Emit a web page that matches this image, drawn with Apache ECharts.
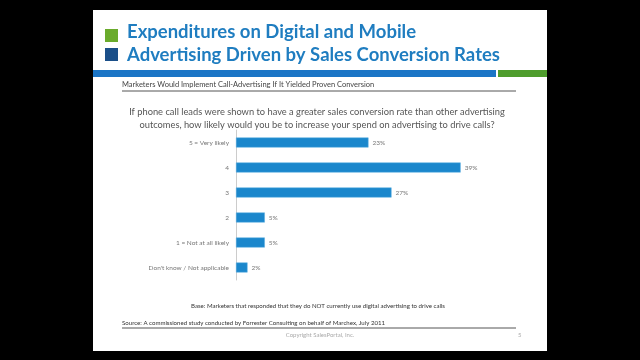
<!DOCTYPE html>
<html>
<head>
<meta charset="utf-8">
<script src="https://cdn.jsdelivr.net/npm/echarts@6/dist/echarts.min.js"></script>
<style>
    html, body { margin: 0; padding: 0; background: #000; }
    #chart { width: 640px; height: 360px; }
</style>
</head>
<body>
<div id="chart"></div>
<script>
// 调查结果 - 数据
const categories = ['5 = Very likely', '4', '3', '2', '1 = Not at all likely', "Don't know / Not applicable"];
const shares = [23, 39, 27, 5, 5, 2];

const titleLines = ['Expenditures on Digital and Mobile', 'Advertising Driven by Sales Conversion Rates'];
const subtitle = 'Marketers Would Implement Call-Advertising If It Yielded Proven Conversion';
const questionLines = [
    'If phone call leads were shown to have a greater sales conversion rate than other advertising',
    'outcomes, how likely would you be to increase your spend on advertising to drive calls?'
];
const baseNote = 'Base: Marketers that responded that they do NOT currently use digital advertising to drive calls';
const sourceNote = 'Source: A commissioned study conducted by Forrester Consulting on behalf of Marchex, July 2011';
const copyright = 'Copyright SalesPortal, Inc.';
const pageNo = '5';

const font = 'Lato';

/**
 * 文本元素
 */
function textItem(text, x, y, size, color, extra) {
    return Object.assign({
        type: 'text',
        x: x,
        y: y,
        style: Object.assign({
            text: text,
            fontFamily: font,
            fontSize: size,
            fill: color,
            verticalAlign: 'middle'
        }, extra || {})
    });
}

const chart = echarts.init(document.getElementById('chart'));

const option = {
    backgroundColor: '#000',
    animation: false,
    graphic: [
        // 幻灯片背景
        { type: 'rect', z: -10, shape: { x: 93, y: 10, width: 454, height: 341 }, style: { fill: '#fff' } },
        { type: 'rect', shape: { x: 105, y: 29, width: 13, height: 13 }, style: { fill: '#6aab2c' } },
        { type: 'rect', shape: { x: 105, y: 48, width: 13, height: 13 }, style: { fill: '#1b4f89' } },
        textItem(titleLines[0], 127, 32, 18.5, '#1f7dc0', { fontWeight: 'bold' }),
        textItem(titleLines[1], 127, 55, 18.5, '#1f7dc0', { fontWeight: 'bold' }),
        { type: 'rect', shape: { x: 93, y: 70, width: 403, height: 7 }, style: { fill: '#1b75c6' } },
        { type: 'rect', shape: { x: 498, y: 70, width: 49, height: 7 }, style: { fill: '#4f9d2d' } },
        textItem(subtitle, 122, 85, 7.5, '#444'),
        { type: 'line', shape: { x1: 122, y1: 91, x2: 516, y2: 91 }, style: { stroke: '#555', lineWidth: 1 } },
        textItem(questionLines[0], 317, 112, 9.3, '#555', { align: 'center' }),
        textItem(questionLines[1], 317, 125, 9.3, '#555', { align: 'center' }),
        textItem(baseNote, 318, 306, 6.1, '#333', { align: 'center' }),
        textItem(sourceNote, 122, 323, 6.1, '#333'),
        { type: 'line', shape: { x1: 122, y1: 328, x2: 516, y2: 328 }, style: { stroke: '#555', lineWidth: 1 } },
        textItem(copyright, 320, 335, 6, '#aaa', { align: 'center' }),
        textItem(pageNo, 518, 335, 6, '#aaa')
    ],
    grid: { left: 236, top: 130, width: 288, height: 150 },
    xAxis: {
        type: 'value',
        min: 0,
        max: 50,
        show: false
    },
    yAxis: {
        type: 'category',
        inverse: true,
        data: categories,
        axisLine: { lineStyle: { color: '#ccc', width: 1 } },
        axisTick: { show: false },
        axisLabel: { color: '#777', fontSize: 6.5, fontFamily: font, margin: 7 }
    },
    series: [
        {
            type: 'bar',
            data: shares,
            barWidth: 10,
            itemStyle: { color: '#1b87cc', borderColor: '#5aaee0', borderWidth: 0.5 },
            label: {
                show: true,
                position: 'right',
                distance: 4,
                formatter: '{c}%',
                color: '#777',
                fontSize: 6.5,
                fontFamily: font
            }
        }
    ]
};

chart.setOption(option);
</script>
</body>
</html>
